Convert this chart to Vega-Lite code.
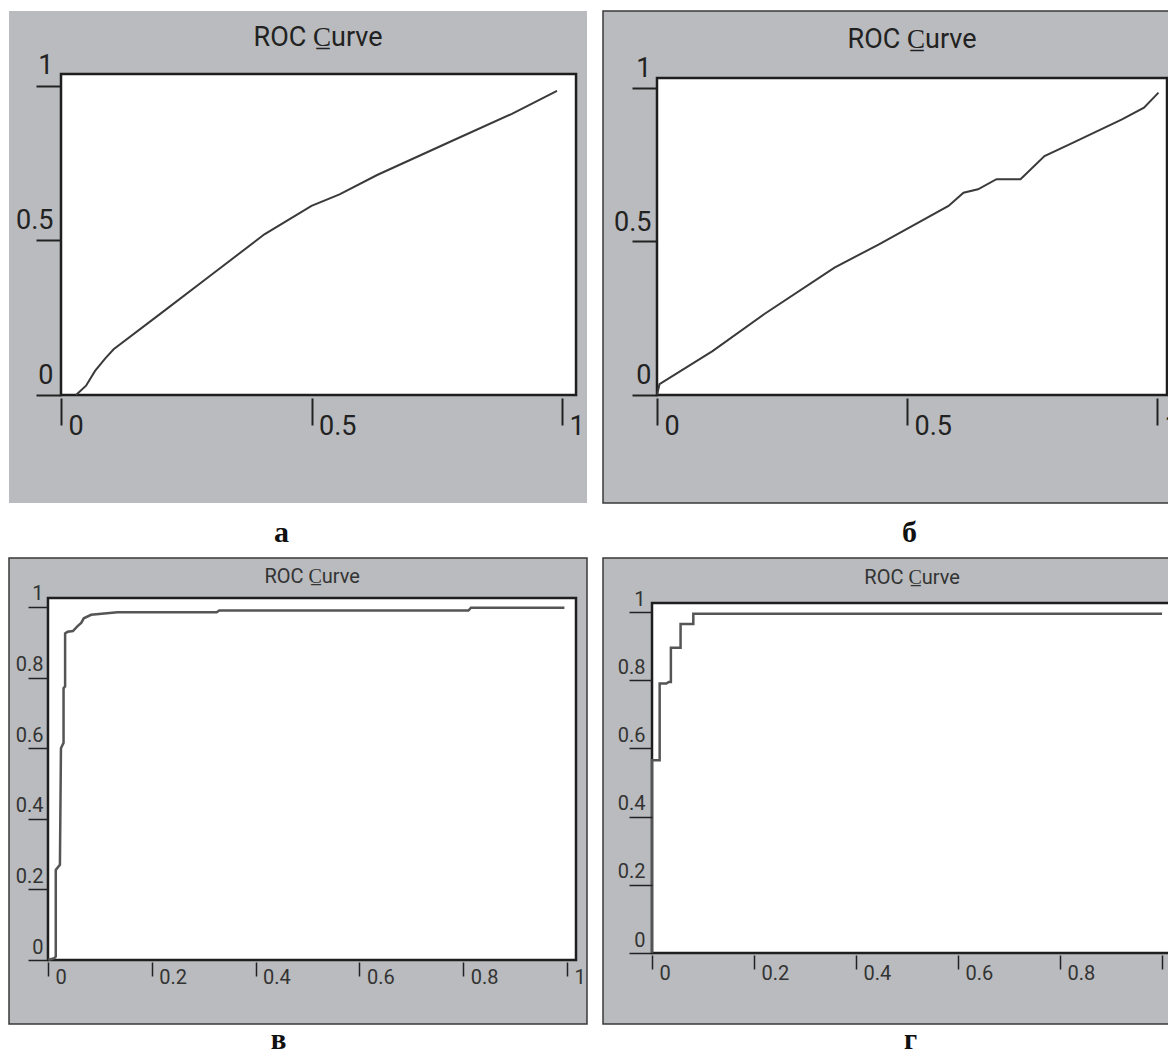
{
  "$schema": "https://vega.github.io/schema/vega-lite/v6.json",
  "background": "white",
  "padding": {"left": 8, "top": 10, "right": 0, "bottom": 0},
  "bounds": "flush",
  "columns": 2,
  "spacing": {"row": 55, "column": 16},
  "datasets": {
    "a": [
      {"fpr": 0.03, "tpr": 0.0}, {"fpr": 0.05, "tpr": 0.03}, {"fpr": 0.068, "tpr": 0.078},
      {"fpr": 0.088, "tpr": 0.118}, {"fpr": 0.105, "tpr": 0.148}, {"fpr": 0.2, "tpr": 0.265},
      {"fpr": 0.301, "tpr": 0.39}, {"fpr": 0.406, "tpr": 0.52}, {"fpr": 0.5, "tpr": 0.612},
      {"fpr": 0.556, "tpr": 0.649}, {"fpr": 0.631, "tpr": 0.712}, {"fpr": 0.78, "tpr": 0.822},
      {"fpr": 0.9, "tpr": 0.91}, {"fpr": 0.99, "tpr": 0.984}
    ],
    "b": [
      {"fpr": 0.0, "tpr": 0.0}, {"fpr": 0.005, "tpr": 0.035}, {"fpr": 0.111, "tpr": 0.143},
      {"fpr": 0.214, "tpr": 0.263}, {"fpr": 0.355, "tpr": 0.415}, {"fpr": 0.443, "tpr": 0.49},
      {"fpr": 0.583, "tpr": 0.616}, {"fpr": 0.613, "tpr": 0.659}, {"fpr": 0.642, "tpr": 0.67},
      {"fpr": 0.679, "tpr": 0.703}, {"fpr": 0.727, "tpr": 0.703}, {"fpr": 0.775, "tpr": 0.778},
      {"fpr": 0.826, "tpr": 0.817}, {"fpr": 0.93, "tpr": 0.898}, {"fpr": 0.974, "tpr": 0.936},
      {"fpr": 1.003, "tpr": 0.985}
    ],
    "v": [
      {"fpr": 0.0, "tpr": 0.0}, {"fpr": 0.012, "tpr": 0.005}, {"fpr": 0.015, "tpr": 0.01},
      {"fpr": 0.015, "tpr": 0.255}, {"fpr": 0.023, "tpr": 0.27}, {"fpr": 0.025, "tpr": 0.6},
      {"fpr": 0.03, "tpr": 0.615}, {"fpr": 0.03, "tpr": 0.77}, {"fpr": 0.033, "tpr": 0.775},
      {"fpr": 0.033, "tpr": 0.925}, {"fpr": 0.038, "tpr": 0.93}, {"fpr": 0.048, "tpr": 0.932},
      {"fpr": 0.057, "tpr": 0.946}, {"fpr": 0.064, "tpr": 0.955}, {"fpr": 0.069, "tpr": 0.968},
      {"fpr": 0.083, "tpr": 0.978}, {"fpr": 0.134, "tpr": 0.985}, {"fpr": 0.325, "tpr": 0.985},
      {"fpr": 0.33, "tpr": 0.99}, {"fpr": 0.81, "tpr": 0.99}, {"fpr": 0.815, "tpr": 0.998},
      {"fpr": 0.995, "tpr": 0.998}
    ],
    "g": [
      {"fpr": 0.0, "tpr": 0.0}, {"fpr": 0.0, "tpr": 0.565}, {"fpr": 0.015, "tpr": 0.565},
      {"fpr": 0.015, "tpr": 0.79}, {"fpr": 0.028, "tpr": 0.79}, {"fpr": 0.033, "tpr": 0.795},
      {"fpr": 0.037, "tpr": 0.795}, {"fpr": 0.037, "tpr": 0.895}, {"fpr": 0.056, "tpr": 0.895},
      {"fpr": 0.056, "tpr": 0.965}, {"fpr": 0.081, "tpr": 0.965}, {"fpr": 0.081, "tpr": 0.995},
      {"fpr": 1.0, "tpr": 0.995}
    ]
  },
  "concat": [
    {
      "width": 578, "height": 492,
      "view": {"fill": "#b9bbbe", "stroke": null},
      "layer": [
        {
          "data": {"values": [{}]},
          "mark": {"type": "rect", "fill": "white", "stroke": "#1e1e1e", "strokeWidth": 2.5},
          "encoding": {
            "x": {"datum": 0, "type": "quantitative"},
            "x2": {"datum": 1.028},
            "y": {"datum": 0, "type": "quantitative"},
            "y2": {"datum": 1.039}
          }
        },
        {
          "data": {"values": [{}]},
          "mark": {"type": "text", "text": "ROC C\u0332urve", "font": "Roboto", "fontSize": 27, "baseline": "alphabetic", "align": "center", "color": "#222"},
          "encoding": {
            "x": {"datum": 0.513, "type": "quantitative"},
            "y": {"datum": 1.129, "type": "quantitative"}
          }
        },
        {
          "data": {"name": "a"},
          "mark": {"type": "line", "color": "#3a3a3a", "strokeWidth": 2},
          "encoding": {
            "x": {"field": "fpr", "type": "quantitative",
              "scale": {"domain": [-0.1038, 1.0499], "nice": false, "zero": false},
              "axis": {"zindex": 1, "values": [0, 0.5, 1], "format": "~g", "orient": "bottom", "offset": -105, "domain": false, "grid": false, "tickSize": 27, "tickWidth": 2, "tickColor": "#222", "labelAlign": "left", "labelBaseline": "alphabetic", "labelOffset": 7, "labelPadding": 9, "labelFont": "Roboto", "labelFontSize": 27, "labelColor": "#222", "labelFlush": false, "labelOverlap": false, "labelBound": false,
                "title": "а", "titleFont": "Liberation Serif", "titleFontWeight": "bold", "titleFontSize": 30, "titleColor": "#111", "titleX": 272, "titleY": 143, "titleAlign": "center", "titleBaseline": "alphabetic", "titleAngle": 0}},
            "y": {"field": "tpr", "type": "quantitative",
              "scale": {"domain": [-0.3495, 1.2427], "nice": false, "zero": false},
              "axis": {"zindex": 1, "values": [0, 0.5, 1], "format": "~g", "orient": "left", "offset": -52, "domain": false, "grid": false, "tickSize": 25, "tickWidth": 2, "tickColor": "#222", "labelAlign": "right", "labelBaseline": "alphabetic", "labelOffset": -12, "labelPadding": -17, "labelFont": "Roboto", "labelFontSize": 27, "labelColor": "#222", "labelFlush": false, "labelOverlap": false, "labelBound": false, "title": null}}
          }
        }
      ]
    },
    {
      "width": 566, "height": 492,
      "view": {"fill": "#b9bbbe", "stroke": "#3a3a3a", "strokeWidth": 1.5},
      "layer": [
        {
          "data": {"values": [{}]},
          "mark": {"type": "rect", "fill": "white", "stroke": "#1e1e1e", "strokeWidth": 2.5},
          "encoding": {
            "x": {"datum": 0, "type": "quantitative"},
            "x2": {"datum": 1.02},
            "y": {"datum": 0, "type": "quantitative"},
            "y2": {"datum": 1.0326}
          }
        },
        {
          "data": {"values": [{}]},
          "mark": {"type": "text", "text": "ROC C\u0332urve", "font": "Roboto", "fontSize": 27, "baseline": "alphabetic", "align": "center", "color": "#222"},
          "encoding": {
            "x": {"datum": 0.51, "type": "quantitative"},
            "y": {"datum": 1.13, "type": "quantitative"}
          }
        },
        {
          "data": {"name": "b"},
          "mark": {"type": "line", "color": "#3a3a3a", "strokeWidth": 2},
          "encoding": {
            "x": {"field": "fpr", "type": "quantitative",
              "scale": {"domain": [-0.108, 1.024], "nice": false, "zero": false},
              "axis": {"zindex": 1, "values": [0, 0.5, 1], "format": "~g", "orient": "bottom", "offset": -105, "domain": false, "grid": false, "tickSize": 27, "tickWidth": 2, "tickColor": "#222", "labelAlign": "left", "labelBaseline": "alphabetic", "labelOffset": 7, "labelPadding": 9, "labelFont": "Roboto", "labelFontSize": 27, "labelColor": "#222", "labelFlush": false, "labelOverlap": false, "labelBound": false,
                "title": "б", "titleFont": "Liberation Serif", "titleFontWeight": "bold", "titleFontSize": 30, "titleColor": "#111", "titleX": 306, "titleY": 143, "titleAlign": "center", "titleBaseline": "alphabetic", "titleAngle": 0}},
            "y": {"field": "tpr", "type": "quantitative",
              "scale": {"domain": [-0.3518, 1.2508], "nice": false, "zero": false},
              "axis": {"zindex": 1, "values": [0, 0.5, 1], "format": "~g", "orient": "left", "offset": -54, "domain": false, "grid": false, "tickSize": 25, "tickWidth": 2, "tickColor": "#222", "labelAlign": "right", "labelBaseline": "alphabetic", "labelOffset": -11, "labelPadding": -19, "labelFont": "Roboto", "labelFontSize": 27, "labelColor": "#222", "labelFlush": false, "labelOverlap": false, "labelBound": false, "title": null}}
          }
        }
      ]
    },
    {
      "width": 578, "height": 466,
      "view": {"fill": "#b9bbbe", "stroke": "#3a3a3a", "strokeWidth": 1.5},
      "layer": [
        {
          "data": {"values": [{}]},
          "mark": {"type": "rect", "fill": "white", "stroke": "#1e1e1e", "strokeWidth": 2.5},
          "encoding": {
            "x": {"datum": 0, "type": "quantitative"},
            "x2": {"datum": 1.0173},
            "y": {"datum": 0, "type": "quantitative"},
            "y2": {"datum": 1.0255}
          }
        },
        {
          "data": {"values": [{}]},
          "mark": {"type": "text", "text": "ROC C\u0332urve", "font": "Roboto", "fontSize": 20, "baseline": "alphabetic", "align": "center", "color": "#333"},
          "encoding": {
            "x": {"datum": 0.509, "type": "quantitative"},
            "y": {"datum": 1.068, "type": "quantitative"}
          }
        },
        {
          "data": {"name": "v"},
          "mark": {"type": "line", "color": "#555555", "strokeWidth": 2.5},
          "encoding": {
            "x": {"field": "fpr", "type": "quantitative",
              "scale": {"domain": [-0.0751, 1.0385], "nice": false, "zero": false},
              "axis": {"zindex": 1, "values": [0, 0.2, 0.4, 0.6, 0.8, 1], "format": "~g", "orient": "bottom", "offset": -62, "domain": false, "grid": false, "tickSize": 14, "tickWidth": 1.5, "tickColor": "#222", "labelAlign": "left", "labelBaseline": "alphabetic", "labelOffset": 7, "labelPadding": 7, "labelFont": "Roboto", "labelFontSize": 20, "labelColor": "#333", "labelFlush": false, "labelOverlap": false, "labelBound": false,
                "title": "в", "titleFont": "Liberation Serif", "titleFontWeight": "bold", "titleFontSize": 29, "titleColor": "#111", "titleX": 269, "titleY": 86, "titleAlign": "center", "titleBaseline": "alphabetic", "titleAngle": 0}},
            "y": {"field": "tpr", "type": "quantitative",
              "scale": {"domain": [-0.1813, 1.1388], "nice": false, "zero": false},
              "axis": {"zindex": 1, "values": [0, 0.2, 0.4, 0.6, 0.8, 1], "format": "~g", "orient": "left", "offset": -39, "domain": false, "grid": false, "tickSize": 20, "tickWidth": 1.5, "tickColor": "#222", "labelAlign": "right", "labelBaseline": "alphabetic", "labelOffset": -7, "labelPadding": -15, "labelFont": "Roboto", "labelFontSize": 20, "labelColor": "#333", "labelFlush": false, "labelOverlap": false, "labelBound": false, "title": null}}
          }
        }
      ]
    },
    {
      "width": 567, "height": 466,
      "view": {"fill": "#b9bbbe", "stroke": "#3a3a3a", "strokeWidth": 1.5},
      "layer": [
        {
          "data": {"values": [{}]},
          "mark": {"type": "rect", "fill": "white", "stroke": "#1e1e1e", "strokeWidth": 2.5},
          "encoding": {
            "x": {"datum": 0, "type": "quantitative"},
            "x2": {"datum": 1.0157},
            "y": {"datum": 0, "type": "quantitative"},
            "y2": {"datum": 1.0264}
          }
        },
        {
          "data": {"values": [{}]},
          "mark": {"type": "text", "text": "ROC C\u0332urve", "font": "Roboto", "fontSize": 20, "baseline": "alphabetic", "align": "center", "color": "#333"},
          "encoding": {
            "x": {"datum": 0.51, "type": "quantitative"},
            "y": {"datum": 1.082, "type": "quantitative"}
          }
        },
        {
          "data": {"name": "g"},
          "mark": {"type": "line", "color": "#555555", "strokeWidth": 2.5},
          "encoding": {
            "x": {"field": "fpr", "type": "quantitative",
              "scale": {"domain": [-0.0961, 1.0157], "nice": false, "zero": false},
              "axis": {"zindex": 1, "values": [0, 0.2, 0.4, 0.6, 0.8, 1], "format": "~g", "orient": "bottom", "offset": -69, "domain": false, "grid": false, "tickSize": 14, "tickWidth": 1.5, "tickColor": "#222", "labelAlign": "left", "labelBaseline": "alphabetic", "labelOffset": 7, "labelPadding": 10, "labelFont": "Roboto", "labelFontSize": 20, "labelColor": "#333", "labelFlush": false, "labelOverlap": false, "labelBound": false,
                "title": "г", "titleFont": "Liberation Serif", "titleFontWeight": "bold", "titleFontSize": 29, "titleColor": "#111", "titleX": 307, "titleY": 93, "titleAlign": "center", "titleBaseline": "alphabetic", "titleAngle": 0}},
            "y": {"field": "tpr", "type": "quantitative",
              "scale": {"domain": [-0.2082, 1.1584], "nice": false, "zero": false},
              "axis": {"zindex": 1, "values": [0, 0.2, 0.4, 0.6, 0.8, 1], "format": "~g", "orient": "left", "offset": -49, "domain": false, "grid": false, "tickSize": 23, "tickWidth": 1.5, "tickColor": "#222", "labelAlign": "right", "labelBaseline": "alphabetic", "labelOffset": -7, "labelPadding": -16, "labelFont": "Roboto", "labelFontSize": 20, "labelColor": "#333", "labelFlush": false, "labelOverlap": false, "labelBound": false, "title": null}}
          }
        }
      ]
    }
  ]
}
